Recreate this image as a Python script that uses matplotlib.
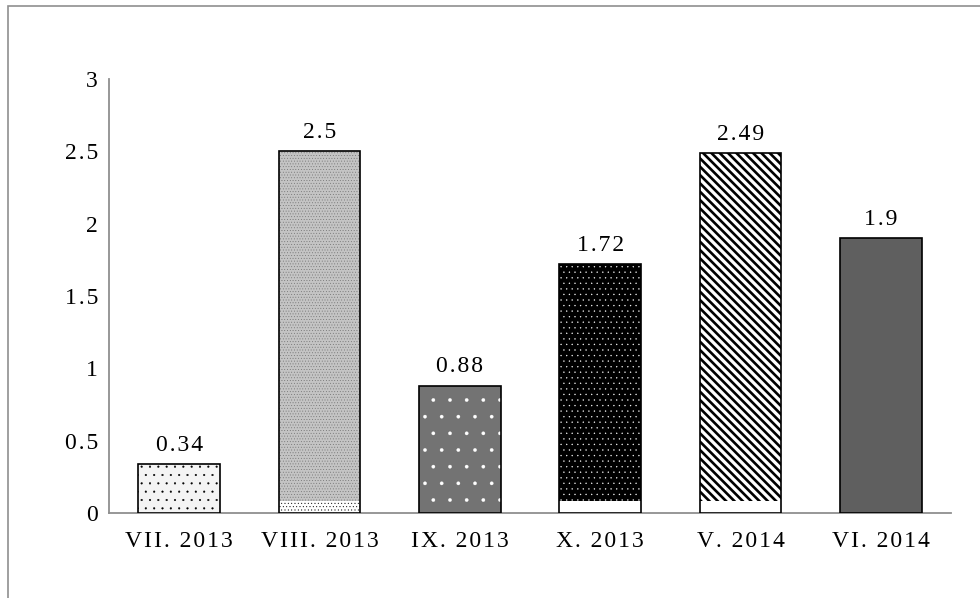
import matplotlib
matplotlib.use("Agg")
import matplotlib.pyplot as plt
import numpy as np
from matplotlib.patches import Rectangle

# data
months = ['VII. 2013', 'VIII. 2013', 'IX. 2013', 'X. 2013', 'V. 2014', 'VI. 2014']
values = [0.34, 2.5, 0.88, 1.72, 2.49, 1.9]
yticks = [0, 0.5, 1, 1.5, 2, 2.5, 3]
ytick_labels = ['0', '0.5', '1', '1.5', '2', '2.5', '3']

# fill styles: (face, hatch, hatch colour, hatch linewidth)
styles = [
    ('#f4f4f4', '..', 'black', 0.3),
    ('#c4c4c4', '......', '#707070', 0.3),
    ('#737373', '.', 'white', 0.2),
    ('black', '...', 'white', 0.2),
    ('white', '\\\\\\\\', 'black', 1.9),
    ('#5f5f5f', None, None, 1.0),
]
# the source chart drew a different strip at the bottom of some bars
strips = [None, ('white', '.....', 'black'), None, ('white', None, None),
          ('white', None, None), None]
STRIP_H = 0.085

plt.rcParams['font.family'] = ['Liberation Serif', 'DejaVu Serif']
FS = 17
GRAY = '#8f8f8f'


def spaced(s):
    # Excel-style expanded character spacing
    return '\u200a'.join(s)


fig = plt.figure(figsize=(9.8, 5.98), dpi=100)
ax = fig.add_axes([109 / 980, 1 - 513 / 598, (951 - 109) / 980, (513 - 79) / 598])

x = np.arange(len(months))
width = 0.58

for xi, v, (face, hatch, hcol, hlw), strip in zip(x, values, styles, strips):
    ax.bar(xi, v, width, color=face, linewidth=0, zorder=2)
    if hatch:
        with plt.rc_context({'hatch.linewidth': hlw}):
            ax.bar(xi, v, width, fill=False, hatch=hatch, edgecolor=hcol,
                   linewidth=0, zorder=3)
    if strip:
        sface, shatch, scol = strip
        ax.bar(xi, STRIP_H, width, color=sface, linewidth=0, zorder=4)
        if shatch:
            with plt.rc_context({'hatch.linewidth': 0.3}):
                ax.bar(xi, STRIP_H, width, fill=False, hatch=shatch, edgecolor=scol,
                       linewidth=0, zorder=5)
    ax.bar(xi, v, width, fill=False, edgecolor='black', linewidth=1.2, zorder=6)
    ax.annotate(spaced(str(v)), (xi, v), xytext=(0, 9.5), textcoords='offset points',
                ha='center', va='baseline', fontsize=FS)

ax.set_xlim(-0.5, len(months) - 0.5)
ax.set_ylim(0, 3)
ax.set_yticks(yticks)
ax.set_yticklabels([spaced(t) for t in ytick_labels], fontsize=FS)
ax.set_xticks(x)
ax.set_xticklabels([spaced(m) for m in months], fontsize=FS)
ax.tick_params(axis='y', length=0, pad=8)
ax.tick_params(axis='x', length=0, pad=13)

for side in ['top', 'right']:
    ax.spines[side].set_visible(False)
for side in ['left', 'bottom']:
    ax.spines[side].set_color(GRAY)
    ax.spines[side].set_linewidth(1.3)
    ax.spines[side].set_zorder(1)

# chart area border (only top and left edges fall inside the image)
fig.add_artist(Rectangle((8 / 980, -0.2), 1.2, 1.2 - 6 / 598, transform=fig.transFigure,
                         fill=False, edgecolor=GRAY, linewidth=1.2))

fig.savefig('out.png', dpi=100)
